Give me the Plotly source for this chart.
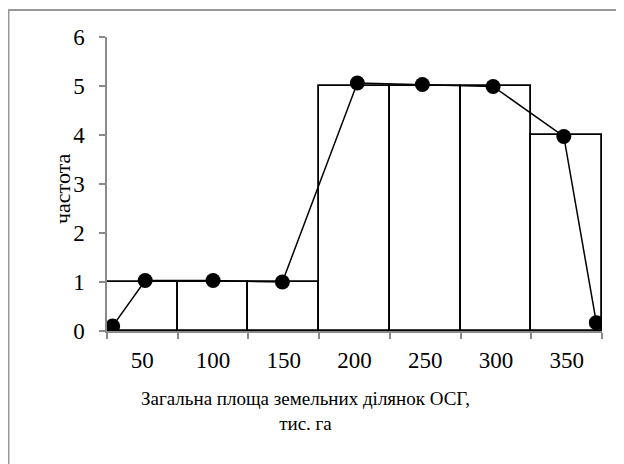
import plotly.graph_objects as go

# Data
bin_centers = [50, 100, 150, 200, 250, 300, 350]
frequencies = [1, 1, 1, 5, 5, 5, 4]
tick_labels = ["50", "100", "150", "200", "250", "300", "350"]
bin_width = 50

poly_x = [29, 52, 100, 149, 202, 248, 298, 348, 371]
poly_y = [0.1, 1.03, 1.03, 1.0, 5.06, 5.03, 4.99, 3.97, 0.17]

y_title = "частота"
x_title = "Загальна площа земельних ділянок ОСГ,<br>тис. га"

boundaries = [c - bin_width / 2 for c in bin_centers] + [bin_centers[-1] + bin_width / 2]

FONT = "Liberation Serif"
AXIS_GRAY = "#8a8a8a"

ML, MR, MT, MB = 99, 30, 29, 141
PW = 624 - ML - MR
PH = 464 - MT - MB


def px_x(x):
    return (x - ML) / PW


def px_y(y):
    return (464 - MB - y) / PH


fig = go.Figure()
fig.add_trace(go.Bar(
    x=bin_centers, y=frequencies, width=bin_width,
    marker=dict(color="white", line=dict(color="black", width=1.8)),
    showlegend=False, hoverinfo="skip",
))
fig.add_trace(go.Scatter(
    x=poly_x, y=poly_y, mode="lines+markers",
    line=dict(color="black", width=1.5),
    marker=dict(color="black", size=15),
    showlegend=False,
))

fig.update_layout(
    width=624, height=464,
    margin=dict(l=ML, r=MR, t=MT, b=MB),
    paper_bgcolor="white", plot_bgcolor="white",
    font=dict(family=FONT, size=22, color="black"),
    bargap=0,
    xaxis=dict(
        range=[boundaries[0], boundaries[-1]],
        tickmode="array", tickvals=bin_centers, ticktext=tick_labels,
        ticks="", showgrid=False, zeroline=False,
        showline=True, linecolor=AXIS_GRAY, linewidth=1.5,
        tickfont=dict(family=FONT, size=23),
        ticklabelstandoff=8,
        minor=dict(tickmode="array", tickvals=boundaries, ticks="outside",
                   ticklen=6, tickcolor=AXIS_GRAY, tickwidth=1.5, showgrid=False),
    ),
    yaxis=dict(
        range=[0, 6], tickmode="linear", tick0=0, dtick=1,
        ticks="outside", ticklen=6, tickcolor=AXIS_GRAY, tickwidth=1.5,
        showgrid=False, zeroline=False,
        showline=True, linecolor=AXIS_GRAY, linewidth=1.5,
        tickfont=dict(family=FONT, size=23),
        ticklabelstandoff=10,
    ),
    annotations=[
        dict(text=x_title, xref="paper", yref="paper",
             x=px_x(297), y=px_y(403), xanchor="center", yanchor="middle",
             showarrow=False, font=dict(family=FONT, size=19, color="black")),
        dict(text=y_title, xref="paper", yref="paper", textangle=-90,
             x=px_x(54), y=px_y(181), xanchor="center", yanchor="middle",
             showarrow=False, font=dict(family=FONT, size=22, color="black")),
    ],
    shapes=[dict(
        type="rect", xref="paper", yref="paper",
        x0=px_x(0.5), x1=1.3, y0=-0.7, y1=px_y(2),
        line=dict(color="#999999", width=2), fillcolor="rgba(0,0,0,0)", layer="below",
    )],
)

fig.write_html("out.html")
